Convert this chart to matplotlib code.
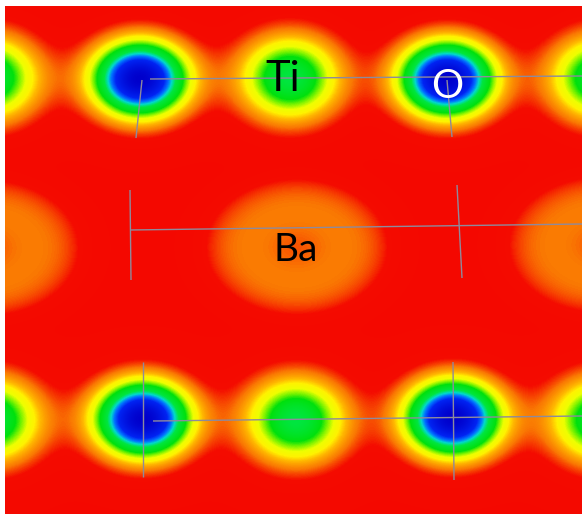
import numpy as np
import matplotlib
matplotlib.use("Agg")
import matplotlib.pyplot as plt
from matplotlib.colors import LinearSegmentedColormap

# ---- data (pixel-space coordinates of the density map) ----
o_x = [140, 447, 143, 453]
o_y = [79, 79, 419, 418]
o_peak = 1.0
o_sx, o_sy = 35, 28

ti_x = [-12, 290, 601, -10, 296, 602]
ti_y = [78, 78, 78, 420, 420, 420]
ti_peak = 0.6
ti_sx, ti_sy = 38, 32

ba_x = [-12, 297, 600]
ba_y = [248, 247, 245]
ba_peak = 0.19
ba_dip = 0.035
ba_rx, ba_ry = 73, 54

# bond / cell lines: (x0, y0, x1, y1)
line_x0 = [150, 142, 447, 130, 130, 457, 153, 143, 453]
line_y0 = [79, 80, 80, 230, 190, 185, 421, 362, 362]
line_x1 = [582, 136, 452, 582, 131, 462, 582, 143, 454]
line_y1 = [76, 138, 137, 224, 280, 278, 416, 477, 480]

labels = ["Ti", "Ba", "O"]
label_x = [283, 296, 447]
label_y = [91, 261, 98]
label_color = ["black", "black", "white"]
label_size = [30, 28, 29]

# ---- colormap ----
stops = [
    (0.00, (0.957, 0.035, 0.0)),
    (0.10, (0.957, 0.045, 0.0)),
    (0.18, (0.98, 0.47, 0.01)),
    (0.26, (1.0, 0.72, 0.0)),
    (0.31, (1.0, 0.95, 0.0)),
    (0.37, (0.93, 1.0, 0.0)),
    (0.43, (0.45, 0.95, 0.0)),
    (0.48, (0.0, 0.88, 0.05)),
    (0.60, (0.0, 0.9, 0.25)),
    (0.665, (0.0, 0.85, 0.8)),
    (0.72, (0.0, 0.45, 1.0)),
    (0.79, (0.0, 0.14, 0.95)),
    (1.00, (0.0, 0.0, 0.8)),
]
cmap = LinearSegmentedColormap.from_list("dens", stops)

# ---- field ----
X0, X1, Y0, Y1 = 5, 582, 6, 514
xs = np.arange(X0, X1) + 0.5
ys = np.arange(Y0, Y1) + 0.5
XX, YY = np.meshgrid(xs, ys)
F = np.zeros_like(XX)
for cx, cy in zip(o_x, o_y):
    F += o_peak * np.exp(-((XX - cx) ** 2 / (2 * o_sx ** 2) + (YY - cy) ** 2 / (2 * o_sy ** 2)))
for cx, cy in zip(ti_x, ti_y):
    F += ti_peak * np.exp(-((XX - cx) ** 2 / (2 * ti_sx ** 2) + (YY - cy) ** 2 / (2 * ti_sy ** 2)))
for cx, cy in zip(ba_x, ba_y):
    rho = np.sqrt(((XX - cx) / ba_rx) ** 2 + ((YY - cy) / ba_ry) ** 2)
    F += ba_peak * np.exp(-(rho / 1.34) ** 6) - ba_dip * np.exp(-rho ** 2 / (2 * 0.25 ** 2))
F = np.clip(F, 0, 1)

fig = plt.figure(figsize=(5.82, 5.14), dpi=100)
fig.patch.set_facecolor("white")
ax = fig.add_axes([X0 / 582, 0, (X1 - X0) / 582, (514 - Y0) / 514])
ax.imshow(F, extent=(X0, X1, Y1, Y0), origin="upper", cmap=cmap, vmin=0, vmax=1,
          interpolation="bilinear", aspect="auto")
for x0, y0, x1, y1 in zip(line_x0, line_y0, line_x1, line_y1):
    ax.plot([x0, x1], [y0, y1], color="#8e8a9c", lw=1.0, solid_capstyle="butt")
for t, x, y, c, s in zip(labels, label_x, label_y, label_color, label_size):
    ax.text(x, y, t, color=c, fontsize=s, ha="center", va="baseline",
            family=["Lato", "DejaVu Sans"])
ax.set_xlim(X0, X1)
ax.set_ylim(Y1, Y0)
ax.axis("off")
fig.savefig("out.png", dpi=100, facecolor="white")
